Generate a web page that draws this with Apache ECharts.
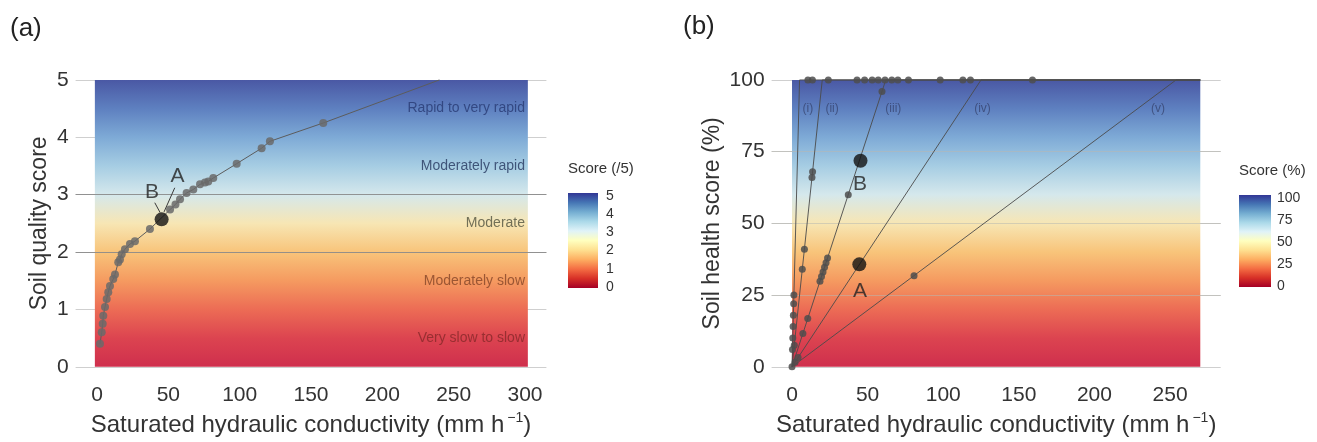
<!DOCTYPE html>
<html>
<head>
<meta charset="utf-8">
<script src="https://cdn.jsdelivr.net/npm/echarts@6/dist/echarts.min.js"></script>
<style>
html,body{margin:0;padding:0;background:#fff;}
#chart{width:1317px;height:442px;}
</style>
</head>
<body>
<div id="chart"></div>
<script>
// ---------- DATA ----------
// Panel (a): soil quality score vs Ks
const ksA    = [2.1,3.3,4.0,4.4,5.6,6.8,7.9,9.1,11.4,12.6,14.9,16.1,17.3,19.6,23.1,26.6,37.1,51.2,55.0,58.2,62.8,67.5,72.2,75.7,78.0,81.5,97.9,115.4,121.2,158.6];
const scoreA = [0.40,0.60,0.75,0.89,1.04,1.18,1.30,1.41,1.53,1.61,1.82,1.87,1.96,2.05,2.14,2.19,2.40,2.74,2.83,2.92,3.03,3.09,3.18,3.21,3.23,3.29,3.54,3.81,3.93,4.25];
const curveEndA = [240, 5];
const highlightA = [45.3, 2.57];
const bandNames = ['Very slow to slow','Moderately slow','Moderate','Moderately rapid','Rapid to very rapid'];
const bandMid   = [0.5, 1.5, 2.5, 3.5, 4.5];
const bandBreaks = [2, 3];
const annotA = [['B', 38.5, 3.05], ['A', 56.5, 3.32]];
const leaderA = [[[40.5, 2.86], [44.2, 2.69]], [[54.5, 3.12], [47.0, 2.70]]];
const xTicksA = [0,50,100,150,200,250,300];
const yTicksA = [0,1,2,3,4,5];
const legendTicksA = ['5','4','3','2','1','0'];

// Panel (b): soil health score vs Ks
const thresholdsB = [5, 20, 62, 125, 254];
const romanLabels = ['(i)','(ii)','(iii)','(iv)','(v)'];
const romanX      = [10.5, 26.5, 67, 126, 242];
const romanY      = 90;
const pointsB_i   = [[0,0],[0.3,6],[0.5,10],[0.7,14],[0.9,18],[1.1,22],[1.25,25]];
const pointsB_ii  = [[1.5,7.5],[6.8,34],[8.2,41],[13.2,66],[13.6,68]];
const pointsB_iii = [[7.2,11.6],[10.4,16.8],[18.5,29.8],[19.5,31.5],[20.5,33],[21.5,34.7],[22.5,36.3],[23.5,37.9],[37.2,60],[59.5,96]];
const pointsB_iv  = [[2.0,1.6],[4.0,3.2]];
const pointsB_v   = [[80.7,31.7]];
const cappedKsB   = [10.5,13.5,24,43,48,53,57,61.5,66,70,77,98,113,118,159];
const highlightB  = [['A', 44.5, 35.7], ['B', 45.3, 71.8]];
const annotB      = [['A', 45, 26.5], ['B', 45, 63.5]];
const xMaxB = 270;
const xTicksB = [0,50,100,150,200,250];
const yTicksB = [0,25,50,75,100];
const legendTicksB = ['100','75','50','25','0'];

// ---------- STYLE ----------
const FONT = 'Liberation Sans, Arial, sans-serif';
const rectStops = ['#cf2f4d','#dc4450','#ec6c55','#f59a60','#f8c47a','#f7e6b4','#d5e8ec','#a6cde3','#7eaad6','#5e80c0','#4a58a4'];
const barStops  = ['#a50026','#d73027','#f46d43','#fdae61','#fee090','#ffffbf','#e0f3f8','#abd9e9','#74add1','#4575b4','#313695'];
function grad(stops){
  return {type:'linear', x:0, y:1, x2:0, y2:0, global:false,
    colorStops: stops.map((c,i)=>({offset:i/(stops.length-1), color:c}))};
}

const gridA = {left:75.6, top:65.6, width:470.8, height:316.8};
const gridB = {left:771.6, top:65.6, width:449.1, height:316.8};

const labelStyle = {color:'#333', fontSize:21, fontFamily:FONT};
const nameStyle = {color:'#333', fontSize:24, fontFamily:FONT,
  rich:{sup:{fontSize:14, fontFamily:FONT, color:'#333', padding:[0,0,14,3]}}};

function xAxisDef(gi, min, max, interval, ticks){
  return {type:'value', gridIndex:gi, min, max, interval,
    axisLine:{show:false}, axisTick:{show:false}, splitLine:{show:false},
    axisLabel:Object.assign({margin:4, showMinLabel:true, showMaxLabel:true,
      formatter:v=>{const r=Math.round(v*100)/100; return ticks.includes(r)?String(r):'';}}, labelStyle),
    name:'Saturated hydraulic conductivity (mm h{sup|\u22121})', nameLocation:'middle', nameGap:27, nameTextStyle:nameStyle};
}
function yAxisDef(gi, min, max, interval, ticks, name, gap){
  return {type:'value', gridIndex:gi, min, max, interval,
    axisLine:{show:false}, axisTick:{show:false}, splitLine:{show:false},
    axisLabel:Object.assign({margin:7, showMinLabel:true, showMaxLabel:true,
      formatter:v=>{const r=Math.round(v*100)/100; return ticks.includes(r)?String(r):'';}}, labelStyle),
    name, nameLocation:'middle', nameGap:gap, nameTextStyle:{color:'#333', fontSize:23, fontFamily:FONT}};
}

const series = [];
// Panel (a) background grid lines
series.push({type:'line', xAxisIndex:0, yAxisIndex:0, data:[], silent:true,
  markLine:{z:0, silent:true, symbol:'none', label:{show:false},
    lineStyle:{color:'#cfcfcf', width:1, type:'solid'},
    data: yTicksA.map(v=>({yAxis:v}))}});
// Panel (a) gradient rectangle
series.push({type:'line', xAxisIndex:0, yAxisIndex:0, data:[], silent:true,
  markArea:{z:1, silent:true, itemStyle:{color:grad(rectStops), opacity:1},
    data:[[{coord:[-1.5, 0]},{coord:[302, 5]}]]}});
// Panel (a) band breaks
series.push({type:'line', xAxisIndex:0, yAxisIndex:0, data:[], silent:true,
  markLine:{z:2, silent:true, symbol:'none', label:{show:false},
    lineStyle:{color:'#8a8a8a', width:1, type:'solid', opacity:0.9},
    data: bandBreaks.map(v=>({yAxis:v}))}});
// Panel (a) curve line
series.push({type:'line', xAxisIndex:0, yAxisIndex:0, z:3, symbol:'none', silent:true,
  lineStyle:{color:'#5c5c5c', width:1},
  data: ksA.map((k,i)=>[k, scoreA[i]]).concat([curveEndA])});
// Panel (a) points
series.push({type:'scatter', xAxisIndex:0, yAxisIndex:0, z:4, symbolSize:8, silent:true,
  itemStyle:{color:'#6a6a6a', opacity:0.85},
  data: ksA.map((k,i)=>[k, scoreA[i]])});
// Panel (a) leader lines
series.push({type:'line', xAxisIndex:0, yAxisIndex:0, data:[], silent:true,
  markLine:{z:5, silent:true, symbol:'none', label:{show:false},
    lineStyle:{color:'#3a3a3a', width:1, type:'solid'},
    data: leaderA.map(seg=>[{coord:seg[0]},{coord:seg[1]}])}});
// Panel (a) highlight point
series.push({type:'scatter', xAxisIndex:0, yAxisIndex:0, z:6, symbolSize:14, silent:true,
  itemStyle:{color:'#111'}, data:[highlightA]});
// Panel (a) A/B labels
series.push({type:'scatter', xAxisIndex:0, yAxisIndex:0, z:7, symbolSize:0, silent:true,
  label:{show:true, position:'inside', formatter:p=>p.data[2], color:'#222', fontSize:21, fontFamily:FONT},
  data: annotA.map(a=>[a[1], a[2], a[0]])});
// Panel (a) band labels
const bandColors = ['#8c2a2c','#8b4a2c','#5b5a45','#2d3f66','#2c3e78'];
series.push({type:'scatter', xAxisIndex:0, yAxisIndex:0, z:7, symbolSize:0, silent:true,
  data: bandNames.map((n,i)=>({value:[300, bandMid[i], n],
    label:{show:true, position:'left', distance:0, formatter:n, color:bandColors[i], fontSize:14, fontFamily:FONT, opacity:0.85}}))});

// Panel (b) background grid lines
series.push({type:'line', xAxisIndex:1, yAxisIndex:1, data:[], silent:true,
  markLine:{z:0, silent:true, symbol:'none', label:{show:false},
    lineStyle:{color:'#cfcfcf', width:1, type:'solid'},
    data: yTicksB.map(v=>({yAxis:v}))}});
series.push({type:'line', xAxisIndex:1, yAxisIndex:1, data:[], silent:true,
  markArea:{z:1, silent:true, itemStyle:{color:grad(rectStops), opacity:1},
    data:[[{coord:[0, 0]},{coord:[xMaxB, 100]}]]}});
series.push({type:'line', xAxisIndex:1, yAxisIndex:1, data:[], silent:true,
  markLine:{z:2, silent:true, symbol:'none', label:{show:false},
    lineStyle:{color:'#b8b8b0', width:1, type:'solid', opacity:0.55},
    data: yTicksB.slice(1,4).map(v=>({yAxis:v}))}});
// Panel (b) lines
thresholdsB.forEach(t=>{
  series.push({type:'line', xAxisIndex:1, yAxisIndex:1, z:3, symbol:'none', silent:true,
    lineStyle:{color:'#4a4a4a', width:1, opacity:0.9},
    data:[[0,0],[t,100],[xMaxB,100]]});
});
// Panel (b) points
[pointsB_i, pointsB_ii, pointsB_iii, pointsB_iv, pointsB_v].forEach(pts=>{
  series.push({type:'scatter', xAxisIndex:1, yAxisIndex:1, z:4, symbolSize:7, silent:true,
    itemStyle:{color:'#4d4d4d', opacity:0.85}, data:pts});
});
series.push({type:'scatter', xAxisIndex:1, yAxisIndex:1, z:4, symbolSize:7, silent:true,
  itemStyle:{color:'#4d4d4d', opacity:0.85}, data:cappedKsB.map(k=>[k,100])});
// Panel (b) highlight points
series.push({type:'scatter', xAxisIndex:1, yAxisIndex:1, z:6, symbolSize:14, silent:true,
  itemStyle:{color:'#111'}, data:highlightB.map(h=>[h[1],h[2]])});
series.push({type:'scatter', xAxisIndex:1, yAxisIndex:1, z:7, symbolSize:0, silent:true,
  label:{show:true, position:'inside', formatter:p=>p.data[2], color:'#222', fontSize:21, fontFamily:FONT},
  data: annotB.map(a=>[a[1], a[2], a[0]])});
// Panel (b) roman labels
series.push({type:'scatter', xAxisIndex:1, yAxisIndex:1, z:7, symbolSize:0, silent:true,
  label:{show:true, position:'inside', formatter:p=>p.data[2], color:'rgba(40,45,80,0.7)', fontSize:12, fontFamily:FONT},
  data: romanLabels.map((r,i)=>[romanX[i], romanY, r])});

// Legends (colour bars)
function legend(x, y, w, h, title, ticks, tickX){
  const els = [
    {type:'text', left:x, top:y-32, style:{text:title, fill:'#333', font:'15px '+FONT}},
    {type:'rect', left:x, top:y, shape:{width:w, height:h}, style:{fill:{type:'linear',x:0,y:1,x2:0,y2:0,
      colorStops:barStops.map((c,i)=>({offset:i/(barStops.length-1), color:c}))}}}
  ];
  ticks.forEach((t,i)=>{
    const ty = y + 4 + i*(h-4)/(ticks.length-1);
    els.push({type:'text', left:tickX, top:ty-8, style:{text:t, fill:'#333', font:'14px '+FONT}});
  });
  return els;
}

const option = {
  animation:false,
  backgroundColor:'#fff',
  grid:[Object.assign({containLabel:false}, gridA), Object.assign({containLabel:false}, gridB)],
  xAxis:[xAxisDef(0, -15, 315, 5, xTicksA), xAxisDef(1, -13.5, 283.5, 0.5, xTicksB)],
  yAxis:[yAxisDef(0, -0.25, 5.25, 0.25, yTicksA, 'Soil quality score', 24),
         yAxisDef(1, -5, 105, 5, yTicksB, 'Soil health score (%)', 47)],
  series,
  graphic:[
    {type:'text', left:10, top:16, style:{text:'(a)', fill:'#222', font:'26px '+FONT}},
    {type:'text', left:683, top:14, style:{text:'(b)', fill:'#222', font:'26px '+FONT}},
  ].concat(legend(568, 193, 30, 95, 'Score (/5)', legendTicksA, 606))
   .concat(legend(1239, 195, 32, 92, 'Score (%)', legendTicksB, 1277))
};

const chart = echarts.init(document.getElementById('chart'), null, {renderer:'canvas'});
chart.setOption(option);
</script>
</body>
</html>
